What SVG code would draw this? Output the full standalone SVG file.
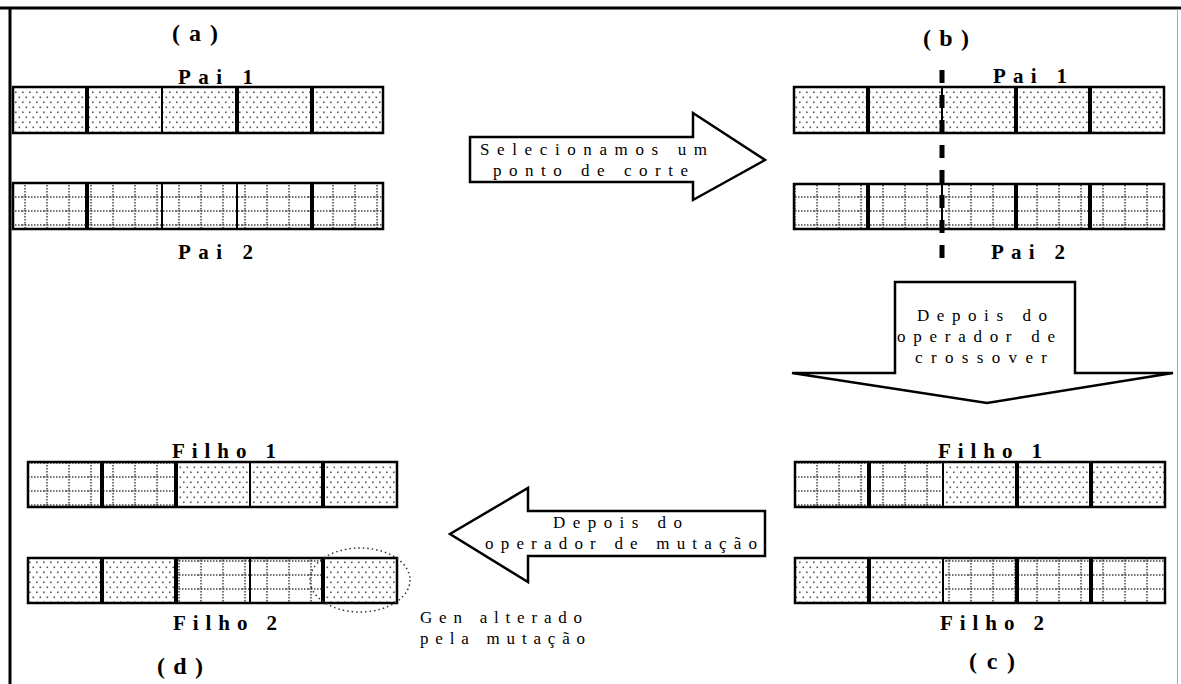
<svg xmlns="http://www.w3.org/2000/svg" width="1181" height="684" viewBox="0 0 1181 684">
  <style>
    .lbl { font-family: "Liberation Serif", "DejaVu Serif", serif; font-weight: bold; font-size: 21px; fill: #000; }
    .tag { font-family: "Liberation Serif", "DejaVu Serif", serif; font-weight: bold; font-size: 24px; fill: #000; text-anchor: middle; }
    .msg { font-family: "Liberation Serif", "DejaVu Serif", serif; font-size: 17px; fill: #000; }
    .frame { fill: none; stroke: #000; stroke-width: 2.5; }
    .cellD { fill: url(#dots); }
    .cellG { fill: url(#grid); }
    .divT { stroke: #000; stroke-width: 4; }
    .divt { stroke: #000; stroke-width: 2; }
    .arrow { fill: #fff; stroke: #000; stroke-width: 2.5; stroke-linejoin: miter; }
  </style>
  <defs>
    <!-- staggered dot texture (genes of one parent) -->
    <pattern id="dots" width="7" height="10" patternUnits="userSpaceOnUse">
      <rect width="7" height="10" fill="#fff"/>
      <rect x="1" y="1.5" width="1.6" height="1.6" fill="#555"/>
      <rect x="4.5" y="6.5" width="1.6" height="1.6" fill="#555"/>
    </pattern>
    <!-- dotted grid texture (genes of the other parent) -->
    <pattern id="grid" width="22" height="14" patternUnits="userSpaceOnUse">
      <rect width="22" height="14" fill="#fff"/>
      <line x1="0" y1="1" x2="22" y2="1" stroke="#444" stroke-width="1.5" stroke-dasharray="1.5 1.5"/>
      <line x1="3" y1="0" x2="3" y2="14" stroke="#444" stroke-width="1.5" stroke-dasharray="1.5 1.5"/>
    </pattern>
  </defs>

  <rect width="1181" height="684" fill="#fff"/>

  <!-- outer frame -->
  <line x1="0" y1="8" x2="1181" y2="8" stroke="#000" stroke-width="3"/>
  <line x1="10" y1="8" x2="10" y2="684" stroke="#000" stroke-width="3"/>
  <line x1="1177.5" y1="9" x2="1177.5" y2="684" stroke="#aaa" stroke-width="1"/>

  <!-- panel tags -->
  <text class="tag" x="195" y="41" textLength="46" lengthAdjust="spacing">(a)</text>
  <text class="tag" x="946" y="46" textLength="46" lengthAdjust="spacing">(b)</text>
  <text class="tag" x="992" y="669" textLength="46" lengthAdjust="spacing">(c)</text>
  <text class="tag" x="180" y="674" textLength="46" lengthAdjust="spacing">(d)</text>

  <!-- (a) parents -->
  <g id="a-pai1">
    <rect class="cellD" x="13" y="87" width="370" height="46"/>
    <rect class="frame" x="13" y="87" width="370" height="46"/>
    <line class="divT" x1="87" y1="87" x2="87" y2="133"/>
    <line class="divt" x1="162" y1="87" x2="162" y2="133"/>
    <line class="divT" x1="237" y1="87" x2="237" y2="133"/>
    <line class="divT" x1="312" y1="87" x2="312" y2="133"/>
    <text class="lbl" x="178" y="84" textLength="75" lengthAdjust="spacing">Pai 1</text>
  </g>
  <g id="a-pai2">
    <rect class="cellG" x="13" y="183" width="370" height="46"/>
    <rect class="frame" x="13" y="183" width="370" height="46"/>
    <line class="divT" x1="87" y1="183" x2="87" y2="229"/>
    <line class="divt" x1="162" y1="183" x2="162" y2="229"/>
    <line class="divt" x1="237" y1="183" x2="237" y2="229"/>
    <line class="divT" x1="312" y1="183" x2="312" y2="229"/>
    <text class="lbl" x="178" y="259" textLength="75" lengthAdjust="spacing">Pai 2</text>
  </g>

  <!-- (b) parents with cut point -->
  <g id="b-pai1">
    <rect class="cellD" x="794" y="87" width="370" height="46"/>
    <rect class="frame" x="794" y="87" width="370" height="46"/>
    <line class="divT" x1="868" y1="87" x2="868" y2="133"/>
    <line class="divt" x1="942" y1="87" x2="942" y2="133"/>
    <line class="divT" x1="1016" y1="87" x2="1016" y2="133"/>
    <line class="divT" x1="1090" y1="87" x2="1090" y2="133"/>
    <text class="lbl" x="993" y="83" textLength="74" lengthAdjust="spacing">Pai 1</text>
  </g>
  <g id="b-pai2">
    <rect class="cellG" x="794" y="184" width="370" height="45"/>
    <rect class="frame" x="794" y="184" width="370" height="45"/>
    <line class="divT" x1="868" y1="184" x2="868" y2="229"/>
    <line class="divt" x1="942" y1="184" x2="942" y2="229"/>
    <line class="divT" x1="1016" y1="184" x2="1016" y2="229"/>
    <line class="divT" x1="1090" y1="184" x2="1090" y2="229"/>
    <text class="lbl" x="991" y="259" textLength="74" lengthAdjust="spacing">Pai 2</text>
  </g>
  <g id="b-cut">
    <line x1="942" y1="70" x2="942" y2="262" stroke="#000" stroke-width="5" stroke-dasharray="13 12"/>
  </g>

  <!-- (c) children after crossover -->
  <g id="c-filho1">
    <rect class="cellG" x="795" y="462" width="148" height="45"/>
    <rect class="cellD" x="943" y="462" width="222" height="45"/>
    <rect class="frame" x="795" y="462" width="370" height="45"/>
    <line class="divT" x1="869" y1="462" x2="869" y2="507"/>
    <line class="divt" x1="943" y1="462" x2="943" y2="507"/>
    <line class="divT" x1="1017" y1="462" x2="1017" y2="507"/>
    <line class="divT" x1="1091" y1="462" x2="1091" y2="507"/>
    <text class="lbl" x="938" y="458" textLength="104" lengthAdjust="spacing">Filho 1</text>
  </g>
  <g id="c-filho2">
    <rect class="cellD" x="795" y="558" width="148" height="45"/>
    <rect class="cellG" x="943" y="558" width="222" height="45"/>
    <rect class="frame" x="795" y="558" width="370" height="45"/>
    <line class="divT" x1="869" y1="558" x2="869" y2="603"/>
    <line class="divt" x1="943" y1="558" x2="943" y2="603"/>
    <line class="divT" x1="1017" y1="558" x2="1017" y2="603"/>
    <line class="divT" x1="1091" y1="558" x2="1091" y2="603"/>
    <text class="lbl" x="940" y="630" textLength="104" lengthAdjust="spacing">Filho 2</text>
  </g>

  <!-- (d) children after mutation -->
  <g id="d-filho1">
    <rect class="cellG" x="28" y="462" width="148" height="45"/>
    <rect class="cellD" x="176" y="462" width="221" height="45"/>
    <rect class="frame" x="28" y="462" width="369" height="45"/>
    <line class="divT" x1="102" y1="462" x2="102" y2="507"/>
    <line class="divT" x1="176" y1="462" x2="176" y2="507"/>
    <line class="divt" x1="250" y1="462" x2="250" y2="507"/>
    <line class="divT" x1="323" y1="462" x2="323" y2="507"/>
    <text class="lbl" x="172" y="458" textLength="104" lengthAdjust="spacing">Filho 1</text>
  </g>
  <g id="d-filho2">
    <rect class="cellD" x="28" y="558" width="148" height="45"/>
    <rect class="cellG" x="176" y="558" width="147" height="45"/>
    <rect class="cellD" x="323" y="558" width="74" height="45"/>
    <rect class="frame" x="28" y="558" width="369" height="45"/>
    <line class="divT" x1="102" y1="558" x2="102" y2="603"/>
    <line class="divT" x1="176" y1="558" x2="176" y2="603"/>
    <line class="divt" x1="250" y1="558" x2="250" y2="603"/>
    <line class="divT" x1="323" y1="558" x2="323" y2="603"/>
    <text class="lbl" x="173" y="630" textLength="104" lengthAdjust="spacing">Filho 2</text>
  </g>
  <g id="d-mutacao">
    <ellipse cx="360" cy="580" rx="50" ry="32" fill="none" stroke="#333" stroke-width="1.5" stroke-dasharray="1.5 3"/>
    <text class="msg" x="420" y="623" textLength="162" lengthAdjust="spacing">Gen alterado</text>
    <text class="msg" x="420" y="644" textLength="165" lengthAdjust="spacing">pela mutação</text>
  </g>

  <!-- block arrows between the stages -->
  <g id="connectors">
    <g id="seta-corte">
      <polygon class="arrow" points="470,137 693,137 693,113 765,160 693,200 693,182 470,182"/>
      <text class="msg" x="480" y="155" textLength="227" lengthAdjust="spacing">Selecionamos um</text>
      <text class="msg" x="493" y="176" textLength="195" lengthAdjust="spacing">ponto de corte</text>
    </g>
    <g id="seta-crossover">
      <polygon class="arrow" points="895,282 1075,282 1075,373 1173,373 987,403 792,373 895,373"/>
      <text class="msg" x="917" y="321" textLength="130" lengthAdjust="spacing">Depois do</text>
      <text class="msg" x="897" y="342" textLength="158" lengthAdjust="spacing">operador de</text>
      <text class="msg" x="915" y="363" textLength="132" lengthAdjust="spacing">crossover</text>
    </g>
    <g id="seta-mutacao">
      <polygon class="arrow" points="765,511 528,511 528,488 450,534 528,582 528,556 765,556"/>
      <text class="msg" x="553" y="528" textLength="129" lengthAdjust="spacing">Depois do</text>
      <text class="msg" x="485" y="549" textLength="272" lengthAdjust="spacing">operador de mutação</text>
    </g>
  </g>
</svg>
